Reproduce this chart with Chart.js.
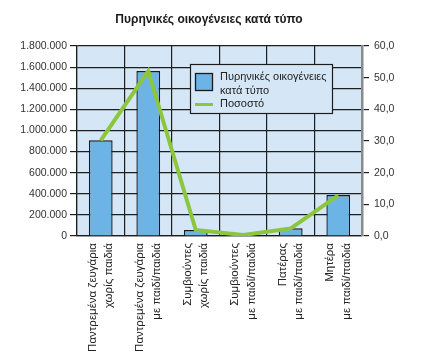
<!DOCTYPE html>
<html>
<head>
<meta charset="utf-8">
<script src="https://cdn.jsdelivr.net/npm/chart.js@4"></script>
<style>
html,body{margin:0;padding:0;background:#fff;}
#wrap{width:424px;height:355px;position:relative;}
</style>
</head>
<body>
<div id="wrap"><canvas id="c" width="424" height="355"></canvas></div>
<script>
const chartTitle = "Πυρηνικές οικογένειες κατά τύπο";
const categories = [
  ["Παντρεμένα ζευγάρια", "χωρίς παιδιά"],
  ["Παντρεμένα ζευγάρια", "με παιδί/παιδιά"],
  ["Συμβιούντες", "χωρίς παιδιά"],
  ["Συμβιούντες", "με παιδί/παιδιά"],
  ["Πατέρας", "με παιδί/παιδιά"],
  ["Μητέρα", "με παιδί/παιδιά"]
];
const barLabel = "Πυρηνικές οικογένειες κατά τύπο";
const barLegendLines = ["Πυρηνικές οικογένειες", "κατά τύπο"];
const lineLabel = "Ποσοστό";
const families = [906000, 1562000, 57000, 8000, 73000, 388000];
const percent = [30.2, 52.1, 1.9, 0.3, 2.4, 12.8];
const leftTicksMax = 1800000, leftStep = 200000;
const rightTicksMax = 60, rightStep = 10;

const FONT = "'Liberation Sans', Arial, sans-serif";
const PLOT_BG = '#d5e7f6';
const GRID = '#1e1e1e';

function fmtThousands(v){
  const s = Math.round(v).toString();
  return s.replace(/\B(?=(\d{3})+(?!\d))/g, '.');
}
function fmtDec(v){ return Number(v).toFixed(1).replace('.', ','); }

const bgPlugin = {
  id: 'plotBg',
  beforeDraw(chart){
    const {ctx, chartArea:a} = chart;
    ctx.save();
    ctx.fillStyle = PLOT_BG;
    ctx.fillRect(a.left, a.top, a.right - a.left, a.bottom - a.top);
    ctx.restore();
  }
};

const titlePlugin = {
  id: 'customTitle',
  afterDraw(chart){
    const ctx = chart.ctx;
    ctx.save();
    ctx.font = "bold 12px " + FONT;
    ctx.fillStyle = '#1a1a1a';
    ctx.textAlign = 'center';
    ctx.textBaseline = 'middle';
    ctx.fillText(chartTitle, 209, 20);
    ctx.restore();
  }
};

const legendPlugin = {
  id: 'customLegend',
  afterDraw(chart){
    const ctx = chart.ctx;
    const x0 = 190.5, y0 = 64.5, w = 142, h = 49;
    ctx.save();
    ctx.fillStyle = PLOT_BG;
    ctx.fillRect(x0, y0, w, h);
    ctx.strokeStyle = GRID;
    ctx.lineWidth = 1.2;
    ctx.strokeRect(x0, y0, w, h);
    const bds = chart.data.datasets[0];
    const lds = chart.data.datasets[1];
    ctx.fillStyle = bds.backgroundColor;
    ctx.fillRect(195.5, 73.5, 17, 17);
    ctx.strokeStyle = bds.borderColor;
    ctx.lineWidth = 1.3;
    ctx.strokeRect(195.5, 73.5, 17, 17);
    ctx.strokeStyle = lds.borderColor;
    ctx.lineWidth = 3;
    ctx.beginPath();
    ctx.moveTo(195, 104.5);
    ctx.lineTo(213, 104.5);
    ctx.stroke();
    ctx.font = "11px " + FONT;
    ctx.fillStyle = '#222';
    ctx.textAlign = 'left';
    ctx.textBaseline = 'middle';
    ctx.fillText(barLegendLines[0], 220, 77);
    ctx.fillText(barLegendLines[1], 220, 91);
    ctx.fillText(lds.label, 220, 104);
    ctx.restore();
  }
};

new Chart(document.getElementById('c'), {
  data: {
    labels: categories,
    datasets: [
      {
        type: 'bar',
        label: barLabel,
        data: families,
        yAxisID: 'y',
        backgroundColor: '#6cb4e6',
        borderColor: '#1a1a1a',
        borderWidth: 1.4,
        barPercentage: 0.5,
        categoryPercentage: 1.0,
        order: 2
      },
      {
        type: 'line',
        label: lineLabel,
        data: percent,
        yAxisID: 'y1',
        borderColor: '#8cc63f',
        backgroundColor: '#8cc63f',
        borderWidth: 4,
        pointRadius: 0,
        tension: 0,
        order: 1
      }
    ]
  },
  options: {
    responsive: false,
    animation: false,
    layout: { padding: { top: 46, left: 0, right: 0, bottom: 0 } },
    plugins: { legend: { display: false }, title: { display: false }, tooltip: { enabled: false } },
    scales: {
      x: {
        offset: true,
        grid: { offset: true, color: GRID, lineWidth: 1.2, drawTicks: false },
        border: { color: GRID, width: 1.2 },
        ticks: {
          maxRotation: 90, minRotation: 90, autoSkip: false, padding: 7,
          labelOffset: -8,
          color: '#222',
          font: { family: FONT, size: 11.5, lineHeight: 1.4 }
        },
        afterFit(s){ s.height = 119; }
      },
      y: {
        position: 'left',
        min: 0, max: leftTicksMax,
        ticks: { stepSize: leftStep, color: '#333', padding: 3,
          font: { family: FONT, size: 10.5 },
          callback: v => fmtThousands(v) },
        grid: { color: GRID, lineWidth: 1.2, tickLength: 7 },
        border: { color: GRID, width: 1.2 },
        afterFit(s){ s.width = 77; }
      },
      y1: {
        position: 'right',
        min: 0, max: rightTicksMax,
        ticks: { stepSize: rightStep, color: '#333', padding: 5,
          font: { family: FONT, size: 10.5 },
          callback: v => fmtDec(v) },
        grid: { drawOnChartArea: false, color: GRID, lineWidth: 1.2, tickLength: 7 },
        border: { color: '#8a8a8a', width: 2.5 },
        afterFit(s){ s.width = 62; }
      }
    }
  },
  plugins: [bgPlugin, titlePlugin, legendPlugin]
});
</script>
</body>
</html>
